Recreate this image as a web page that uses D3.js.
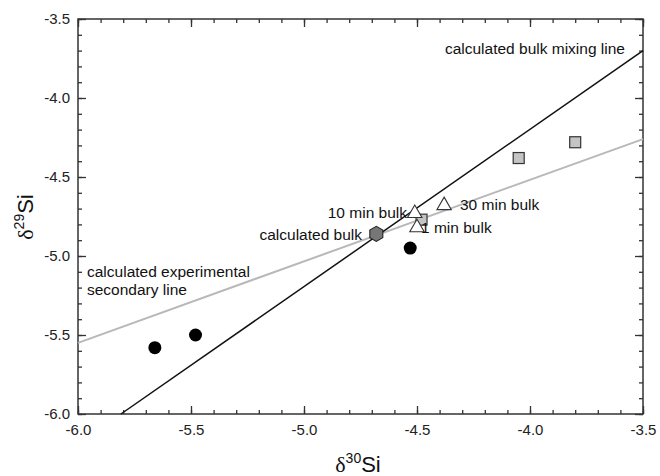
<!DOCTYPE html>
<html><head><meta charset="utf-8">
<script src="https://cdn.jsdelivr.net/npm/d3@7"></script>
<style>body{margin:0;background:#fff}svg{display:block;font-family:Arial,"Liberation Sans",sans-serif}</style>
</head><body><svg id="c" width="660" height="476"></svg>
<script>
const xDomain = [-6, -3.5];
const yDomain = [-6, -3.5];
const majorTicks = [-6, -5.5, -5, -4.5, -4, -3.5];
const circlesX = [-5.66, -5.48, -4.53];
const circlesY = [-5.58, -5.50, -4.95];
const squaresX = [-4.05, -3.80, -4.48];
const squaresY = [-4.38, -4.28, -4.77];
const trianglesX = [-4.51, -4.50, -4.38];
const trianglesY = [-4.73, -4.82, -4.68];
const triangleLabels = ["10 min bulk", "1 min bulk", "30 min bulk"];
const hexX = [-4.68];
const hexY = [-4.86];
const mixingLineX = [-5.81, -3.5];
const mixingLineY = [-6, -3.70];
const secondaryLineX = [-6, -3.5];
const secondaryLineY = [-5.55, -4.26];

const svg = d3.select("#c");
const L = 78, R = 643, T = 19, B = 414;
const x = d3.scaleLinear().domain(xDomain).range([L, R]);
const y = d3.scaleLinear().domain(yDomain).range([B, T]);
const axisColor = "#333";
const minorTicks = d3.range(-6, -3.49, 0.1).map(v => +v.toFixed(2));

const g = svg.append("g");
g.append("rect").attr("x", L).attr("y", T).attr("width", R - L).attr("height", B - T)
  .attr("fill", "none").attr("stroke", axisColor).attr("stroke-width", 1.5);

function fmt(v){ return d3.format(".1f")(v).replace("−","-"); }
const axB = d3.axisBottom(x).tickValues(minorTicks).tickSize(-4).tickFormat("");
const axT = d3.axisTop(x).tickValues(minorTicks).tickSize(-4).tickFormat("");
const axL = d3.axisLeft(y).tickValues(minorTicks).tickSize(-4).tickFormat("");
const axR = d3.axisRight(y).tickValues(minorTicks).tickSize(-4).tickFormat("");
const axBM = d3.axisBottom(x).tickValues(majorTicks).tickSize(-8).tickPadding(10).tickFormat(fmt);
const axTM = d3.axisTop(x).tickValues(majorTicks).tickSize(-8).tickFormat("");
const axLM = d3.axisLeft(y).tickValues(majorTicks).tickSize(-8).tickPadding(8).tickFormat(fmt);
const axRM = d3.axisRight(y).tickValues(majorTicks).tickSize(-8).tickFormat("");
[[axB, `translate(0,${B})`],[axT, `translate(0,${T})`],[axL, `translate(${L},0)`],[axR, `translate(${R},0)`],
 [axBM, `translate(0,${B})`],[axTM, `translate(0,${T})`],[axLM, `translate(${L},0)`],[axRM, `translate(${R},0)`]]
 .forEach(([ax, tr]) => {
   const a = g.append("g").attr("transform", tr).call(ax);
   a.select(".domain").remove();
   a.selectAll("line").attr("stroke", axisColor).attr("stroke-width", 1.3);
   a.selectAll("text").attr("fill", "#222").style("font-size", "15px").style("font-family", "Arial, 'Liberation Sans', sans-serif");
 });

const line = d3.line().x(d => x(d[0])).y(d => y(d[1]));
svg.append("path").datum(secondaryLineX.map((v,i)=>[v, secondaryLineY[i]]))
  .attr("d", line).attr("stroke", "#b8b8b8").attr("stroke-width", 2).attr("fill", "none");
svg.append("path").datum(mixingLineX.map((v,i)=>[v, mixingLineY[i]]))
  .attr("d", line).attr("stroke", "#111").attr("stroke-width", 1.5).attr("fill", "none");

svg.selectAll("circle.pt").data(circlesX.map((v,i)=>[v, circlesY[i]])).join("circle")
  .attr("cx", d => x(d[0])).attr("cy", d => y(d[1])).attr("r", 6.5).attr("fill", "#000");
svg.selectAll("rect.sq").data(squaresX.map((v,i)=>[v, squaresY[i]])).join("rect").attr("class","sq")
  .attr("x", d => x(d[0]) - 5.5).attr("y", d => y(d[1]) - 5.5).attr("width", 11).attr("height", 11)
  .attr("fill", "#c4c4c4").attr("stroke", "#333").attr("stroke-width", 1.2);
const tri = d3.symbol().type(d3.symbolTriangle).size(90);
svg.selectAll("path.tri").data(trianglesX.map((v,i)=>[v, trianglesY[i]])).join("path").attr("class","tri")
  .attr("transform", d => `translate(${x(d[0])},${y(d[1])})`).attr("d", tri())
  .attr("fill", "#fff").attr("stroke", "#333").attr("stroke-width", 1.1);
const hexPath = d3.range(6).map(k => {
  const a = Math.PI/6 + k*Math.PI/3;
  return [7.5*Math.cos(a), 7.5*Math.sin(a)];
});
svg.selectAll("path.hex").data(hexX.map((v,i)=>[v, hexY[i]])).join("path").attr("class","hex")
  .attr("transform", d => `translate(${x(d[0])},${y(d[1])})`)
  .attr("d", "M" + hexPath.join("L") + "Z")
  .attr("fill", "#777").attr("stroke", "#222").attr("stroke-width", 1.1);

const lab = (t, px, py, anchor) => svg.append("text").attr("x", px).attr("y", py)
  .attr("text-anchor", anchor || "start").attr("fill", "#111").style("font-size", "15.5px").text(t);
lab("calculated bulk mixing line", 625, 54, "end");
lab("calculated experimental", 87, 277);
lab("secondary line", 87, 295);
lab("calculated bulk", 362, 240, "end");
lab(triangleLabels[0], 407, 218, "end");
lab(triangleLabels[1], 421, 233, "start");
lab(triangleLabels[2], 460, 210, "start");

const xt = svg.append("text").attr("x", 358).attr("y", 472).attr("text-anchor", "middle")
  .style("font-size", "22px").attr("fill", "#111");
xt.append("tspan").style("font-family", "'Liberation Serif', 'DejaVu Serif', serif").text("δ");
xt.append("tspan").attr("dy", -9).style("font-size", "14px").text("30");
xt.append("tspan").attr("dy", 9).text("Si");
const yt = svg.append("text").attr("transform", "translate(33,217) rotate(-90)").attr("text-anchor", "middle")
  .style("font-size", "22px").attr("fill", "#111");
yt.append("tspan").style("font-family", "'Liberation Serif', 'DejaVu Serif', serif").text("δ");
yt.append("tspan").attr("dy", -9).style("font-size", "14px").text("29");
yt.append("tspan").attr("dy", 9).text("Si");
</script></body></html>
